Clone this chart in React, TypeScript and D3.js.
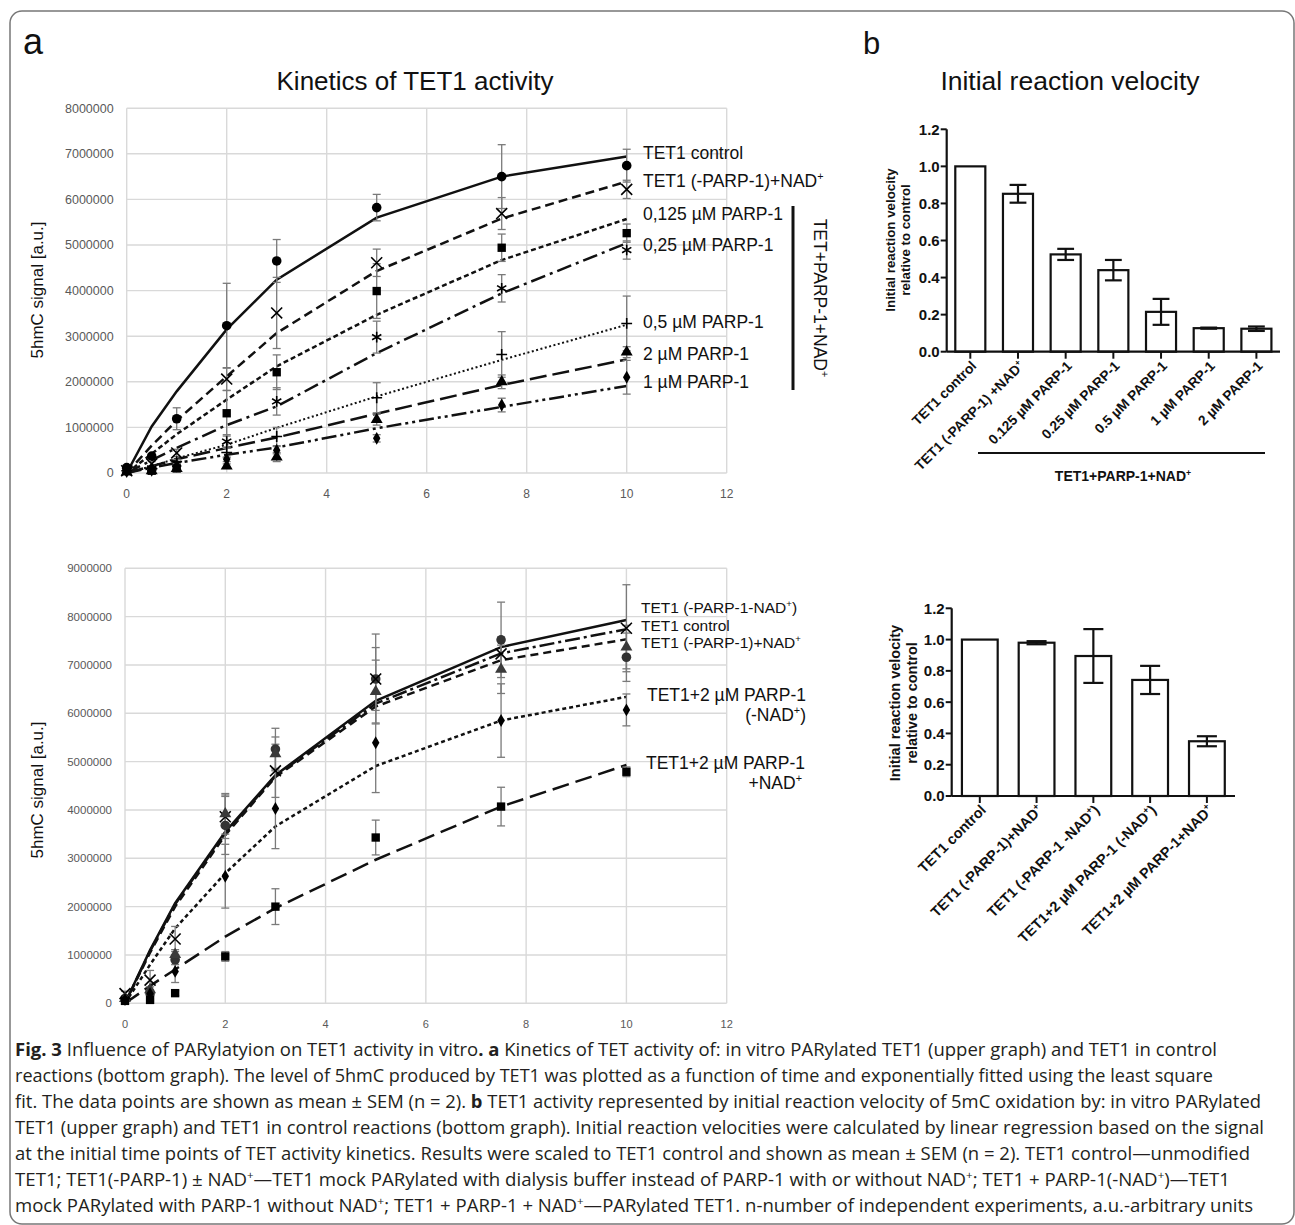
import React from 'react';
import * as d3 from 'd3';

const timePoints = [0, 0.5, 1, 2, 3, 5, 7.5, 10];
const xTicks = [0, 2, 4, 6, 8, 10, 12];

// upper kinetics graph (5hmC signal, millions a.u.)
const upControlMean = [0.12, 0.37, 1.19, 3.23, 4.65, 5.82, 6.5, 6.74];
const upControlSem = [0.02, 0.05, 0.24, 0.93, 0.47, 0.29, 0.7, 0.36];
const upControlFit = [0, 1.02, 1.79, 3.15, 4.24, 5.6, 6.5, 6.94];

const upMinusParpMean = [0.05, 0.2, 0.44, 2.06, 3.51, 4.61, 5.69, 6.22];
const upMinusParpSem = [0.02, 0.05, 0.08, 0.25, 0.78, 0.3, 0.35, 0.2];
const upMinusParpFit = [0, 0.6, 1.15, 2.12, 3.07, 4.43, 5.58, 6.39];

const up0125Mean = [0.05, 0.05, 0.1, 1.31, 2.21, 3.99, 4.94, 5.26];
const up0125Sem = [0.01, 0.02, 0.05, 0.5, 0.38, 0.6, 0.3, 0.2];
const up0125Fit = [0, 0.42, 0.85, 1.61, 2.34, 3.47, 4.67, 5.57];

const up025Mean = [0.05, 0.1, 0.2, 0.69, 1.57, 2.98, 4.05, 4.89];
const up025Sem = [0.01, 0.03, 0.05, 0.15, 0.3, 0.35, 0.3, 0.2];
const up025Fit = [0, 0.28, 0.55, 1.05, 1.46, 2.63, 3.94, 5.04];

const up05Mean = [0.05, 0.1, 0.25, 0.45, 0.8, 1.65, 2.6, 3.28];
const up05Sem = [0.01, 0.02, 0.05, 0.12, 0.2, 0.33, 0.5, 0.6];
const up05Fit = [0, 0.15, 0.32, 0.62, 0.99, 1.68, 2.48, 3.25];

const up2Mean = [0.02, 0.05, 0.1, 0.15, 0.35, 1.17, 2.0, 2.65];
const up2Sem = [0.01, 0.02, 0.04, 0.05, 0.1, 0.12, 0.15, 0.12];
const up2Fit = [0, 0.15, 0.3, 0.55, 0.78, 1.3, 1.93, 2.49];

const up1Mean = [0.03, 0.06, 0.15, 0.3, 0.5, 0.76, 1.49, 2.1];
const up1Sem = [0.01, 0.02, 0.03, 0.05, 0.08, 0.08, 0.15, 0.37];
const up1Fit = [0, 0.12, 0.22, 0.4, 0.56, 0.98, 1.45, 1.91];

// lower kinetics graph
const lowNoParpNoNadMean = [0.1, 0.2, 0.9, 3.68, 5.26, 6.71, 7.52, 7.16];
const lowNoParpNoNadSem = [0.03, 0.05, 0.1, 0.6, 0.43, 0.93, 0.78, 0.5];
const lowNoParpNoNadFit = [0, 1.1, 2.07, 3.55, 4.72, 6.26, 7.37, 7.93];

const lowControlMean = [0.2, 0.48, 1.33, 3.86, 4.81, 6.71, 7.23, 7.76];
const lowControlSem = [0.05, 0.2, 0.26, 0.45, 0.55, 0.65, 0.35, 0.9];
const lowControlFit = [0, 1.08, 2.05, 3.52, 4.7, 6.2, 7.24, 7.74];

const lowNoParpNadMean = [0.1, 0.28, 1.01, 3.92, 5.16, 6.45, 6.91, 7.37];
const lowNoParpNadSem = [0.03, 0.06, 0.1, 0.42, 0.35, 0.65, 0.5, 0.45];
const lowNoParpNadFit = [0, 1.05, 2.0, 3.48, 4.68, 6.14, 7.1, 7.53];

const low2NoNadMean = [0.08, 0.2, 0.66, 2.63, 4.03, 5.39, 5.85, 6.07];
const low2NoNadSem = [0.02, 0.05, 0.23, 0.66, 0.83, 1.03, 0.76, 0.33];
const low2NoNadFit = [0, 0.8, 1.55, 2.69, 3.66, 4.91, 5.85, 6.34];

const low2NadMean = [0.05, 0.07, 0.21, 0.97, 2.0, 3.43, 4.07, 4.79];
const low2NadSem = [0.01, 0.02, 0.05, 0.1, 0.37, 0.36, 0.4, 0.1];
const low2NadFit = [0, 0.36, 0.7, 1.38, 1.97, 2.97, 4.07, 4.93];

// initial velocity bars
const upBarCats = ['TET1 control', 'TET1 (-PARP-1) +NAD+', '0.125 µM PARP-1', '0.25 µM PARP-1', '0.5 µM PARP-1', '1 µM PARP-1', '2 µM PARP-1'];
const upBarValues = [1.0, 0.852, 0.525, 0.44, 0.215, 0.127, 0.124];
const upBarErr = [0, 0.048, 0.03, 0.055, 0.07, 0.003, 0.012];

const lowBarCats = ['TET1 control', 'TET1 (-PARP-1)+NAD+', 'TET1 (-PARP-1 -NAD+)', 'TET1+2 µM PARP-1 (-NAD+)', 'TET1+2 µM PARP-1+NAD+'];
const lowBarValues = [1.0, 0.98, 0.895, 0.742, 0.35];
const lowBarErr = [0, 0.01, 0.172, 0.09, 0.032];

const barTicks = [0, 0.2, 0.4, 0.6, 0.8, 1.0, 1.2];

const captionLines = [
  [['Fig. 3', true], [' Influence of PARylatyion on TET1 activity in vitro', false], ['. a', true], [' Kinetics of TET activity of: in vitro PARylated TET1 (upper graph) and TET1 in control', false]],
  [['reactions (bottom graph). The level of 5hmC produced by TET1 was plotted as a function of time and exponentially fitted using the least square', false]],
  [['fit. The data points are shown as mean ± SEM (n = 2).', false], [' b', true], [' TET1 activity represented by initial reaction velocity of 5mC oxidation by: in vitro PARylated', false]],
  [['TET1 (upper graph) and TET1 in control reactions (bottom graph). Initial reaction velocities were calculated by linear regression based on the signal', false]],
  [['at the initial time points of TET activity kinetics. Results were scaled to TET1 control and shown as mean ± SEM (n = 2). TET1 control—unmodified', false]],
  [['TET1; TET1(-PARP-1) ± NAD+—TET1 mock PARylated with dialysis buffer instead of PARP-1 with or without NAD+; TET1 + PARP-1(-NAD+)—TET1', false]],
  [['mock PARylated with PARP-1 without NAD+; TET1 + PARP-1 + NAD+—PARylated TET1. n-number of independent experiments, a.u.-arbitrary units', false]],
];
const captionEnds = [1217, 1213, 1261, 1264, 1250, 1230, 1253];

const FONT = 'Liberation Sans, Arial, Helvetica, sans-serif';

function supText(str: string, fs: number, key = '') {
  const parts = str.split('NAD+');
  const nodes: any[] = [];
  parts.forEach((p, i) => {
    const txt = i < parts.length - 1 ? p + 'NAD' : p;
    nodes.push(<tspan key={`${key}t${i}`} dy={i > 0 ? fs * 0.38 : 0}>{txt}</tspan>);
    if (i < parts.length - 1) nodes.push(<tspan key={`${key}s${i}`} dy={-fs * 0.38} fontSize={fs * 0.62}>+</tspan>);
  });
  return nodes;
}

const symbolTypes: any = {
  square: d3.symbolSquare,
  triangle: d3.symbolTriangle,
  diamond: d3.symbolDiamond,
  times: d3.symbolTimes,
  asterisk: d3.symbolAsterisk,
  plus: d3.symbolPlus,
};

function Marker({ kind, x, y, color }: any) {
  if (kind === 'circle') return <circle cx={x} cy={y} r={4.8} fill={color} />;
  const stroked = kind === 'times' || kind === 'asterisk' || kind === 'plus';
  const size = kind === 'square' ? 70 : kind === 'triangle' ? 62 : kind === 'diamond' ? 48 : kind === 'plus' ? 40 : 80;
  const d = d3.symbol().type(symbolTypes[kind]).size(size)() as string;
  return (
    <path d={d} transform={`translate(${x},${y})`} fill={stroked ? 'none' : color}
      stroke={stroked ? color : 'none'} strokeWidth={1.6} />
  );
}

function Kinetics({ series, left, right, top, bottom, yMax, tickSize }: any) {
  const x = d3.scaleLinear().domain([0, 12]).range([left, right]);
  const y = d3.scaleLinear().domain([0, yMax]).range([bottom, top]);
  const line = d3.line<number>().x((_, i) => x(timePoints[i])).y((d) => y(d));
  const yTicks = d3.range(0, yMax + 1, 1);
  return (
    <g fontFamily={FONT}>
      {yTicks.map((t) => (
        <g key={`y${t}`}>
          <line x1={left} x2={right} y1={y(t)} y2={y(t)} stroke="#d9d9d9" strokeWidth={1.4} />
          <text x={left - 13} y={y(t)} dy="0.35em" textAnchor="end" fontSize={tickSize} fill="#595959">{d3.format('d')(t * 1000000)}</text>
        </g>
      ))}
      {xTicks.map((t) => (
        <g key={`x${t}`}>
          <line x1={x(t)} x2={x(t)} y1={top} y2={bottom} stroke="#d9d9d9" strokeWidth={1.4} />
          <text x={x(t)} y={bottom + 21} dy="0.35em" textAnchor="middle" fontSize={tickSize - 0.5} fill="#595959">{t}</text>
        </g>
      ))}
      {series.map((s: any, k: number) => (
        <path key={`l${k}`} d={line(s.fit) as string} fill="none" stroke="#111" strokeWidth={s.dash === '2,2.5' ? 2 : 2.5}
          strokeDasharray={s.dash || undefined} />
      ))}
      {series.map((s: any, k: number) => (
        <g key={`e${k}`} stroke="#7a7a7a" strokeWidth={1.3}>
          {s.mean.map((m: number, i: number) => {
            const cx = x(timePoints[i]);
            const hi = y(m + s.sem[i]);
            const lo = y(Math.max(0, m - s.sem[i]));
            return (
              <g key={i}>
                <line x1={cx} x2={cx} y1={hi} y2={lo} />
                <line x1={cx - 4} x2={cx + 4} y1={hi} y2={hi} />
                <line x1={cx - 4} x2={cx + 4} y1={lo} y2={lo} />
              </g>
            );
          })}
        </g>
      ))}
      {series.map((s: any, k: number) => (
        <g key={`m${k}`}>
          {s.mean.map((m: number, i: number) => (
            <Marker key={i} kind={s.marker} x={x(timePoints[i])} y={y(m)} color={s.color || '#000'} />
          ))}
        </g>
      ))}
    </g>
  );
}

function Bars({ cats, values, errs, left, right, top, bottom, tickFont, catFont }: any) {
  const x = d3.scaleBand().domain(cats).range([left, right]).paddingInner(0.37).paddingOuter(0.18);
  const y = d3.scaleLinear().domain([0, 1.2]).range([bottom, top]);
  const bw = x.bandwidth();
  return (
    <g fontFamily={FONT} fontWeight="bold">
      {cats.map((c: string, i: number) => {
        const bx = x(c) as number;
        const cx = bx + bw / 2;
        const v = values[i];
        const e = errs[i];
        const cap = bw * 0.28;
        return (
          <g key={c}>
            <rect x={bx} y={y(v)} width={bw} height={y(0) - y(v)} fill="#fff" stroke="#111" strokeWidth={2.2} />
            {e > 0 && (
              <g stroke="#111" strokeWidth={2.2}>
                <line x1={cx} x2={cx} y1={y(v + e)} y2={y(v - e)} />
                <line x1={cx - cap} x2={cx + cap} y1={y(v + e)} y2={y(v + e)} />
                <line x1={cx - cap} x2={cx + cap} y1={y(v - e)} y2={y(v - e)} />
              </g>
            )}
            <line x1={cx} x2={cx} y1={bottom} y2={bottom + 7} stroke="#111" strokeWidth={2} />
            <text transform={`translate(${cx + 7},${bottom + 15}) rotate(-45)`} textAnchor="end" fontSize={catFont} fill="#111">
              {supText(c, catFont, c)}
            </text>
          </g>
        );
      })}
      <line x1={left} x2={right} y1={bottom} y2={bottom} stroke="#111" strokeWidth={2.2} />
      <line x1={left} x2={left} y1={top} y2={bottom} stroke="#111" strokeWidth={2.2} />
      {barTicks.map((t) => (
        <g key={t}>
          <line x1={left - 6} x2={left} y1={y(t)} y2={y(t)} stroke="#111" strokeWidth={2} />
          <text x={left - 7} y={y(t)} dy="0.36em" textAnchor="end" fontSize={tickFont} fill="#111">{d3.format('.1f')(t)}</text>
        </g>
      ))}
    </g>
  );
}

export default function App() {
  const upperSeries = [
    { mean: upControlMean, sem: upControlSem, fit: upControlFit, marker: 'circle', dash: null },
    { mean: upMinusParpMean, sem: upMinusParpSem, fit: upMinusParpFit, marker: 'times', dash: '9,5' },
    { mean: up0125Mean, sem: up0125Sem, fit: up0125Fit, marker: 'square', dash: '5,3' },
    { mean: up025Mean, sem: up025Sem, fit: up025Fit, marker: 'asterisk', dash: '15,5,3,5' },
    { mean: up05Mean, sem: up05Sem, fit: up05Fit, marker: 'plus', dash: '2,2.5' },
    { mean: up2Mean, sem: up2Sem, fit: up2Fit, marker: 'triangle', dash: '17,6' },
    { mean: up1Mean, sem: up1Sem, fit: up1Fit, marker: 'diamond', dash: '15,4,3,4,3,4' },
  ];
  const lowerSeries = [
    { mean: lowNoParpNoNadMean, sem: lowNoParpNoNadSem, fit: lowNoParpNoNadFit, marker: 'circle', dash: null, color: '#333' },
    { mean: lowControlMean, sem: lowControlSem, fit: lowControlFit, marker: 'times', dash: '15,4,3,4' },
    { mean: lowNoParpNadMean, sem: lowNoParpNadSem, fit: lowNoParpNadFit, marker: 'triangle', dash: '8,5', color: '#3a3a3a' },
    { mean: low2NoNadMean, sem: low2NoNadSem, fit: low2NoNadFit, marker: 'diamond', dash: '4,3' },
    { mean: low2NadMean, sem: low2NadSem, fit: low2NadFit, marker: 'square', dash: '17,7' },
  ];

  const upLabels = [
    ['TET1 control', 159], ['TET1 (-PARP-1)+NAD+', 187], ['0,125 µM PARP-1', 220], ['0,25 µM PARP-1', 251],
    ['0,5 µM PARP-1', 328], ['2 µM PARP-1', 360], ['1 µM PARP-1', 388],
  ];
  const labelFs = 17.5;
  const tightFs = 15.5;

  return (
    <svg width={1295} height={1225} style={{ position: 'absolute', left: 0, top: 0, background: '#fff' }}>
      <rect x={10} y={11} width={1284} height={1213} rx={12} fill="#fff" stroke="#777" strokeWidth={1.5} />

      <text x={23} y={54} fontFamily={FONT} fontSize={36} fill="#111">a</text>
      <text x={863} y={54} fontFamily={FONT} fontSize={31} fill="#111">b</text>
      <text x={415} y={90} textAnchor="middle" fontFamily={FONT} fontSize={26} fill="#111">Kinetics of TET1 activity</text>
      <text x={1070} y={90} textAnchor="middle" fontFamily={FONT} fontSize={26.5} fill="#111">Initial reaction velocity</text>

      {/* upper kinetics */}
      <Kinetics series={upperSeries} left={126.7} right={726.7} top={108.2} bottom={473} yMax={8} tickSize={12.5} />
      <text transform="translate(43,290) rotate(-90)" textAnchor="middle" fontFamily={FONT} fontSize={17} fill="#111">5hmC signal [a.u.]</text>
      <g fontFamily={FONT} fontSize={labelFs} fill="#111">
        {upLabels.map(([t, yy]: any) => (
          <text key={t} x={643} y={yy}>{supText(t, labelFs, t)}</text>
        ))}
      </g>
      <line x1={793} x2={793} y1={206} y2={390} stroke="#111" strokeWidth={3} />
      <text transform="translate(814,298) rotate(90)" textAnchor="middle" fontFamily={FONT} fontSize={17.5} fill="#111">
        {supText('TET+PARP-1+NAD+', 17.5, 'r')}
      </text>

      {/* lower kinetics */}
      <Kinetics series={lowerSeries} left={125} right={726.7} top={568.3} bottom={1003.3} yMax={9} tickSize={11.5} />
      <text transform="translate(43,790) rotate(-90)" textAnchor="middle" fontFamily={FONT} fontSize={17} fill="#111">5hmC signal [a.u.]</text>
      <g fontFamily={FONT} fill="#111">
        <text x={641} y={613} fontSize={tightFs}>{supText('TET1 (-PARP-1-NAD+)', tightFs, 'a')}</text>
        <text x={641} y={630.5} fontSize={tightFs}>TET1 control</text>
        <text x={641} y={648} fontSize={tightFs}>{supText('TET1 (-PARP-1)+NAD+', tightFs, 'b')}</text>
        <text x={806} y={701} textAnchor="end" fontSize={labelFs}>TET1+2 µM PARP-1</text>
        <text x={806} y={721} textAnchor="end" fontSize={labelFs}>{supText('(-NAD+)', labelFs, 'c')}</text>
        <text x={805} y={769} textAnchor="end" fontSize={labelFs}>TET1+2 µM PARP-1</text>
        <text x={802} y={789} textAnchor="end" fontSize={labelFs}>{supText('+NAD+', labelFs, 'd')}</text>
      </g>

      {/* upper bars */}
      <Bars cats={upBarCats} values={upBarValues} errs={upBarErr} left={946.7} right={1280} top={129.3} bottom={351.7} tickFont={15} catFont={13.8} />
      <text transform="translate(890,240) rotate(-90)" textAnchor="middle" dy="0.35em" fontFamily={FONT} fontWeight="bold" fontSize={13.3} fill="#111">Initial reaction velocity</text>
      <text transform="translate(905,240) rotate(-90)" textAnchor="middle" dy="0.35em" fontFamily={FONT} fontWeight="bold" fontSize={13.3} fill="#111">relative to control</text>
      <line x1={978} x2={1265} y1={453} y2={453} stroke="#111" strokeWidth={2.2} />
      <text x={1123} y={481} textAnchor="middle" fontFamily={FONT} fontWeight="bold" fontSize={14} fill="#111">{supText('TET1+PARP-1+NAD+', 14, 'e')}</text>

      {/* lower bars */}
      <Bars cats={lowBarCats} values={lowBarValues} errs={lowBarErr} left={951.7} right={1235} top={608.3} bottom={796} tickFont={15} catFont={14.5} />
      <text transform="translate(895,703) rotate(-90)" textAnchor="middle" dy="0.35em" fontFamily={FONT} fontWeight="bold" fontSize={14.5} fill="#111">Initial reaction velocity</text>
      <text transform="translate(912,703) rotate(-90)" textAnchor="middle" dy="0.35em" fontFamily={FONT} fontWeight="bold" fontSize={14.5} fill="#111">relative to control</text>

      {/* caption */}
      <g fontFamily="Open Sans, Liberation Sans, sans-serif" fontSize={18.5} fill="#231f20">
        {captionLines.map((segs: any, li: number) => (
          <text key={li} x={15} y={1056 + li * 26} textLength={captionEnds[li] - 15} lengthAdjust="spacingAndGlyphs">
            {segs.map(([t, b]: any, si: number) => (
              <tspan key={si} fontWeight={b ? 'bold' : 'normal'}>{supText(t, 18.5, `c${li}_${si}`)}</tspan>
            ))}
          </text>
        ))}
      </g>
    </svg>
  );
}
